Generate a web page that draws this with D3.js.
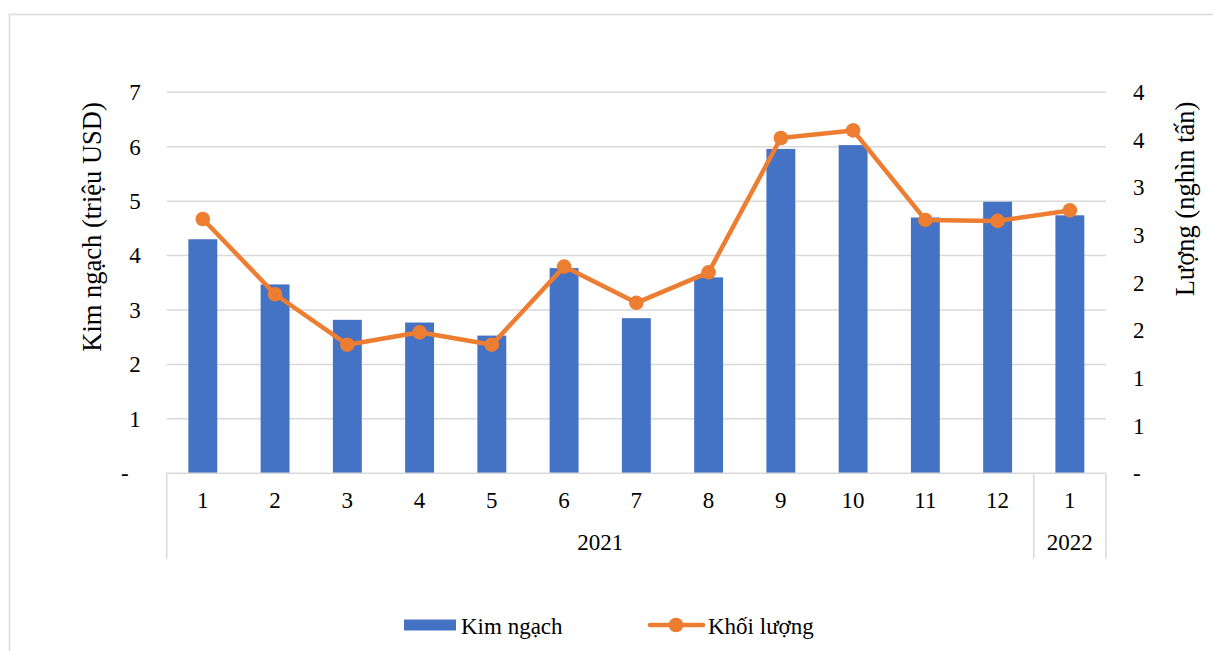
<!DOCTYPE html>
<html>
<head>
<meta charset="utf-8">
<script src="https://cdn.jsdelivr.net/npm/d3@7"></script>
<style>
  html, body { margin: 0; padding: 0; background: #fff; }
</style>
</head>
<body>
<svg id="chart" width="1213" height="651"></svg>
<script>
// Monthly export value (million USD) and volume (thousand tonnes)
const months = ["1", "2", "3", "4", "5", "6", "7", "8", "9", "10", "11", "12", "1"];
const years  = ["2021", "2021", "2021", "2021", "2021", "2021", "2021", "2021", "2021", "2021", "2021", "2021", "2022"];
const kimNgach  = [4.30, 3.47, 2.82, 2.77, 2.53, 3.77, 2.85, 3.60, 5.96, 6.03, 4.70, 4.99, 4.74];
const khoiLuong = [2.67, 1.88, 1.35, 1.48, 1.35, 2.17, 1.79, 2.11, 3.52, 3.60, 2.66, 2.65, 2.76];
const leftTicks  = [0, 1, 2, 3, 4, 5, 6, 7];
const rightTicks = [0, 0.5, 1, 1.5, 2, 2.5, 3, 3.5, 4];
const seriesNames = ["Kim ngạch", "Khối lượng"];
const axisTitles = ["Kim ngạch (triệu USD)", "Lượng (nghìn tấn)"];

const BLUE = "#4472C4", ORANGE = "#ED7D31", GRID = "#D9D9D9", TEXT = "#000";
const FONT = '"Liberation Serif"';
const FS = 23;

const svg = d3.select("#chart");
const plot = { left: 166.7, right: 1106, top: 92.3, bottom: 473.3 };

// Shared text styling
function styleText(sel, size) {
  return sel.style("font-family", FONT).style("font-size", size + "px").attr("fill", TEXT);
}

// Outer frame
svg.append("rect")
  .attr("x", 9.5).attr("y", 14.5).attr("width", 1300).attr("height", 700)
  .attr("fill", "#fff").attr("stroke", GRID).attr("stroke-width", 1.5);

const keys = months.map((m, i) => years[i] + "-" + m + "-" + i);
const x = d3.scaleBand().domain(keys).range([plot.left, plot.right]).padding(0);
const yL = d3.scaleLinear().domain([0, 7]).range([plot.bottom, plot.top]);
const yR = d3.scaleLinear().domain([0, 4]).range([plot.bottom, plot.top]);

// Horizontal gridlines
svg.append("g").selectAll("line").data(leftTicks.slice(1)).join("line")
  .attr("x1", plot.left).attr("x2", plot.right)
  .attr("y1", d => yL(d)).attr("y2", d => yL(d))
  .attr("stroke", GRID).attr("stroke-width", 1.5);

// Left value axis
const gL = svg.append("g").attr("transform", `translate(${plot.left - 26},0)`)
  .call(d3.axisLeft(yL).tickValues(leftTicks).tickSize(0).tickPadding(0)
    .tickFormat(d => d === 0 ? "-" : d3.format(",")(d)));
gL.select(".domain").remove();
styleText(gL.selectAll("text"), FS).attr("x", d => d === 0 ? -12 : 0);

// Right value axis (labels rounded to whole numbers)
const gR = svg.append("g").attr("transform", `translate(${plot.right + 27},0)`)
  .call(d3.axisRight(yR).tickValues(rightTicks).tickSize(0).tickPadding(0)
    .tickFormat(d => d === 0 ? "-" : d3.format(",")(Math.round(d))));
gR.select(".domain").remove();
styleText(gR.selectAll("text"), FS);

// Bars
const barW = x.bandwidth() * 0.4;
svg.append("g").selectAll("rect").data(kimNgach).join("rect")
  .attr("x", (d, i) => x(keys[i]) + (x.bandwidth() - barW) / 2)
  .attr("width", barW)
  .attr("y", d => yL(d))
  .attr("height", d => yL(0) - yL(d))
  .attr("fill", BLUE);

// Category axis: baseline, separators, month and year labels
const catBottom = 559;
svg.append("line")
  .attr("x1", plot.left).attr("x2", plot.right)
  .attr("y1", plot.bottom).attr("y2", plot.bottom)
  .attr("stroke", GRID).attr("stroke-width", 1.5);

const yearGroups = d3.groups(keys.map((k, i) => ({ k, y: years[i] })), d => d.y);
const sepXs = [plot.left];
yearGroups.forEach(([, items]) => sepXs.push(x(items[items.length - 1].k) + x.bandwidth()));
svg.append("g").selectAll("line").data(sepXs).join("line")
  .attr("x1", d => d).attr("x2", d => d)
  .attr("y1", plot.bottom).attr("y2", catBottom)
  .attr("stroke", GRID).attr("stroke-width", 1.5);

const gX = svg.append("g").attr("transform", `translate(0,${plot.bottom})`)
  .call(d3.axisBottom(x).tickSize(0).tickPadding(0).tickFormat((k, i) => months[i]));
gX.select(".domain").remove();
styleText(gX.selectAll("text"), FS)
  .attr("dy", null).attr("y", 29).attr("dominant-baseline", "middle");

styleText(svg.append("g").selectAll("text").data(yearGroups).join("text"), FS)
  .attr("x", ([, items]) => (x(items[0].k) + x(items[items.length - 1].k) + x.bandwidth()) / 2)
  .attr("y", 545).attr("dominant-baseline", "middle")
  .attr("text-anchor", "middle")
  .text(([yr]) => yr);

// Volume line with markers
const line = d3.line()
  .x((d, i) => x(keys[i]) + x.bandwidth() / 2)
  .y(d => yR(d));
svg.append("path").datum(khoiLuong)
  .attr("d", line).attr("fill", "none")
  .attr("stroke", ORANGE).attr("stroke-width", 4.5)
  .attr("stroke-linejoin", "round").attr("stroke-linecap", "round");
svg.append("g").selectAll("circle").data(khoiLuong).join("circle")
  .attr("cx", (d, i) => x(keys[i]) + x.bandwidth() / 2)
  .attr("cy", d => yR(d)).attr("r", 7.3)
  .attr("fill", ORANGE);

// Axis titles
styleText(svg.append("text"), 26.5)
  .attr("transform", "translate(101,227) rotate(-90)")
  .attr("text-anchor", "middle")
  .text(axisTitles[0]);
styleText(svg.append("text"), 26.5)
  .attr("transform", "translate(1194,199) rotate(-90)")
  .attr("text-anchor", "middle")
  .text(axisTitles[1]);

// Legend
const lg = svg.append("g");
lg.append("rect").attr("x", 404).attr("y", 619.5).attr("width", 52).attr("height", 11).attr("fill", BLUE);
styleText(lg.append("text"), FS).attr("x", 461).attr("y", 634).text(seriesNames[0]);
lg.append("line").attr("x1", 650).attr("x2", 703).attr("y1", 625).attr("y2", 625)
  .attr("stroke", ORANGE).attr("stroke-width", 4.5).attr("stroke-linecap", "round");
lg.append("circle").attr("cx", 676).attr("cy", 625).attr("r", 7.3).attr("fill", ORANGE);
styleText(lg.append("text"), FS).attr("x", 708).attr("y", 634).text(seriesNames[1]);
</script>
</body>
</html>
